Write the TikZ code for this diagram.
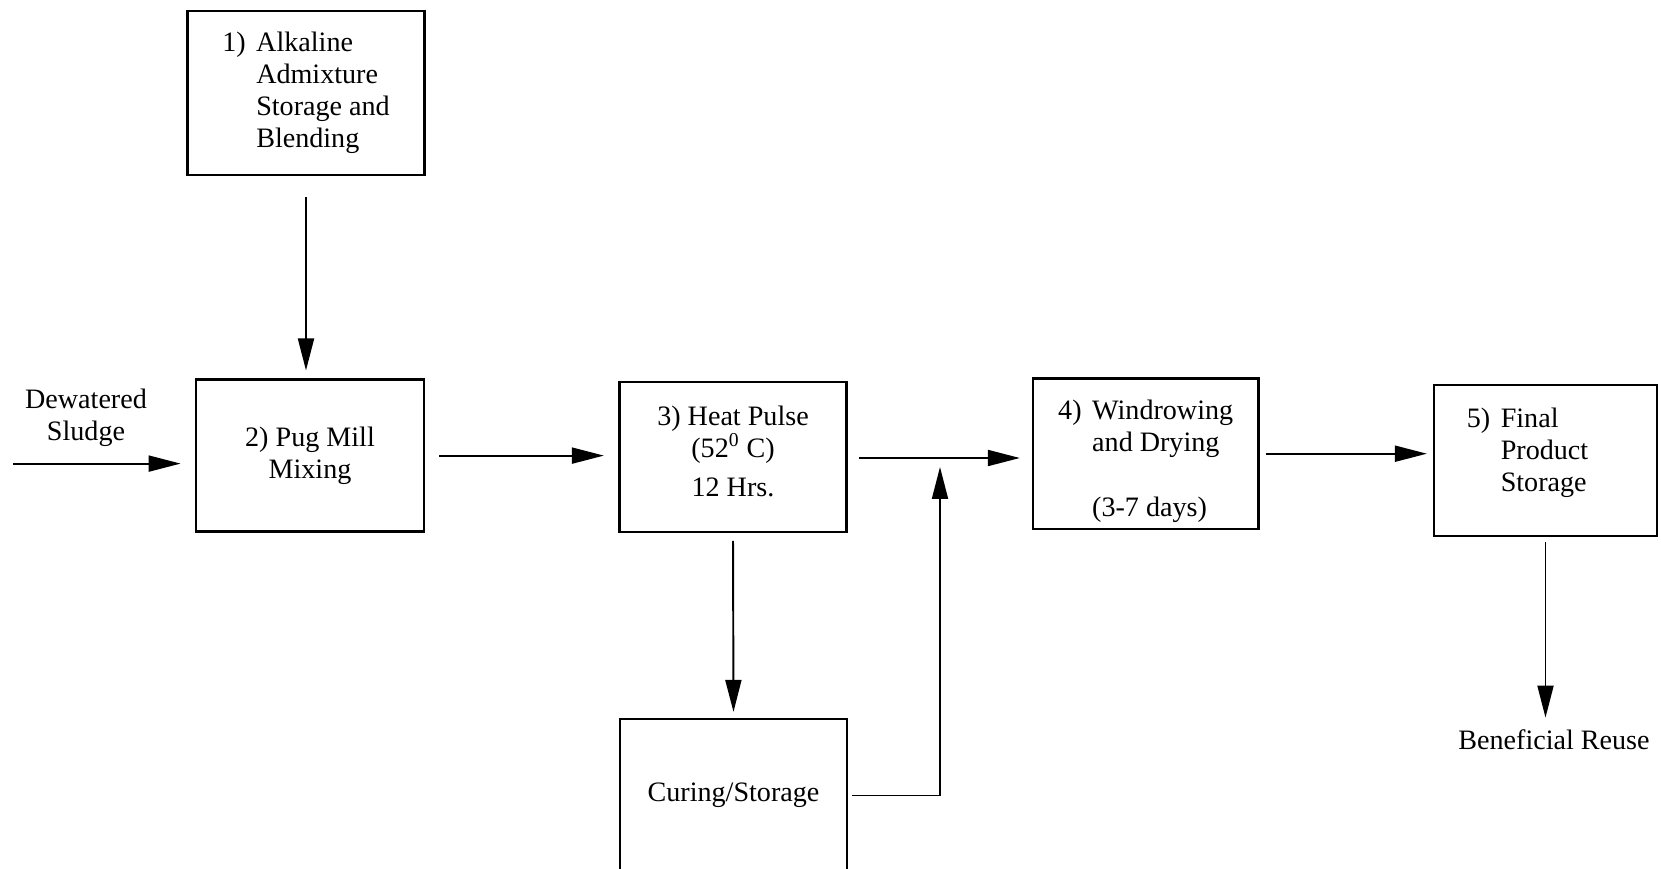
\documentclass[tikz,border=0pt]{standalone}
\usepackage{fontspec}
\setmainfont{Liberation Serif}
\usetikzlibrary{arrows.meta}

\begin{document}
\begin{tikzpicture}[x=0.02cm, y=-0.02cm,
  every node/.style={font=\fontsize{16}{18.2}\selectfont},
  box/.style={draw, line width=1.3pt, inner sep=0pt},
  flow/.style={line width=1.1pt, -{Triangle[length=6.4mm,width=3.2mm]}}]
\useasboundingbox (0,0) rectangle (1661,869);

%process boxes
\node[box, minimum width=4.74cm, minimum height=3.28cm] (alk) at (306,92.7)
  {\begin{tabular}{@{}p{6.8mm}@{}l@{}}1) & Alkaline\\ & Admixture\\ & Storage and\\ & Blending\end{tabular}};
\node[box, minimum width=4.55cm, minimum height=3.04cm, align=center] (pug) at (310,455.6)
  {2) Pug Mill\\Mixing};
\node[box, minimum width=4.54cm, minimum height=3.01cm] (heat) at (733,457) {};
\node[align=center] (heat-t) at ([yshift=1.1mm]heat.center)
  {3) Heat Pulse\\(52\textsuperscript{0} C)\\[1.5mm]12 Hrs.};
\node[box, minimum width=4.54cm, minimum height=3.06cm] (cure) at (733.5,795.5) {Curing/Storage};
\node[box, minimum width=4.51cm, minimum height=3.01cm] (wind) at (1145.7,453.7) {};
\node (wind-t) at ([yshift=-1.5mm]wind.center)
  {\begin{tabular}{@{}p{6.8mm}@{}l@{}}4) & Windrowing\\ & and Drying\\[6.6mm] & (3-7 days)\end{tabular}};
\node[box, minimum width=4.46cm, minimum height=3.02cm] (final) at (1545.5,460.5) {};
\node (final-t) at ([xshift=-3.6mm,yshift=1.4mm]final.center)
  {\begin{tabular}{@{}p{6.8mm}@{}l@{}}5) & Final\\ & Product\\ & Storage\end{tabular}};

%inputs and outputs
\node[align=center] (sludge) at (86,418) {Dewatered\\Sludge};
\coordinate (in) at (13,463.6);
\node[inner sep=0pt] (reuse) at (1554,740) {Beneficial Reuse};
\coordinate (join) at (940,458);

%connectors
\draw[flow, shorten <=4.2mm, shorten >=1.6mm] (alk.south) -- (alk.south |- pug.north);
\draw[flow, shorten >=2.9mm] (in) -- (in -| pug.west);
\draw[flow, shorten <=2.9mm, shorten >=2.9mm] (pug.east) -- (pug.east -| heat.west);
\draw[flow, shorten <=2.2mm, shorten >=2.4mm] (heat.east |- join) -- (join -| wind.west);
\draw[flow, shorten <=1.5mm, shorten >=1.2mm] (heat.south) -- (cure.north);
\draw[flow, shorten <=0.8mm, shorten >=1.8mm] (cure.east) -| (join);
\draw[flow, shorten <=1.2mm, shorten >=1.2mm] (wind.east) -- (wind.east -| final.west);
\draw[flow, shorten <=1mm, shorten >=2.4mm] (final.south) -- (final.south |- reuse.north);
\end{tikzpicture}
\end{document}
